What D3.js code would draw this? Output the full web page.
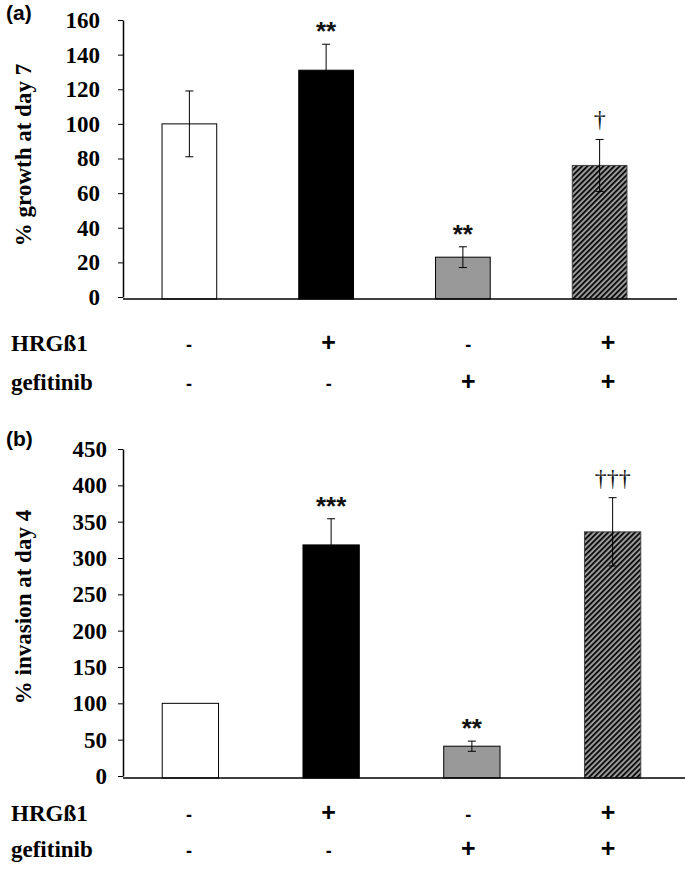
<!DOCTYPE html>
<html lang="en">
  <head>
    <meta charset="UTF-8" />
    <title>Growth and invasion</title>
    <style>
      body { margin: 0; background: #fff; }
      .serif { font-family: "Liberation Serif", "Times New Roman", Times, "DejaVu Serif", serif; font-weight: bold; }
      .sans { font-family: "Liberation Sans", Arial, Helvetica, sans-serif; font-weight: bold; }
      .dagger { font-family: "Liberation Serif", "Times New Roman", "DejaVu Serif", serif; font-weight: normal; }
    </style>
  </head>
  <body>
    <script src="https://d3js.org/d3.v7.min.js"></script>
    <script>
      const width = 685;
      const height = 874;

      const categories = ["control", "HRG", "gefitinib", "HRG+gefitinib"];
      const fills = ["#fff", "#000", "#999", "url(#hatch)"];

      const growthValues = [100, 131, 23, 76];
      const growthErrors = [19, 15, 6, 15];
      const growthMarks = ["", "**", "**", "†"];
      const growthTicks = [0, 20, 40, 60, 80, 100, 120, 140, 160];

      const invasionValues = [100, 318, 41, 336];
      const invasionErrors = [0, 36, 7, 47];
      const invasionMarks = ["", "***", "**", "†††"];
      const invasionTicks = [0, 50, 100, 150, 200, 250, 300, 350, 400, 450];

      const hrgRow = ["-", "+", "-", "+"];
      const gefitinibRow = ["-", "-", "+", "+"];

      const svg = d3
        .select("body")
        .append("svg")
        .attr("width", width)
        .attr("height", height);

      const pattern = svg
        .append("defs")
        .append("pattern")
        .attr("id", "hatch")
        .attr("patternUnits", "userSpaceOnUse")
        .attr("width", 3.8)
        .attr("height", 3.8)
        .attr("patternTransform", "rotate(45)");
      pattern.append("rect").attr("width", 3.8).attr("height", 3.8).attr("fill", "#9a9a9a");
      pattern.append("rect").attr("width", 1.7).attr("height", 3.8).attr("fill", "#000");

      const signX = d3.scalePoint().domain(categories).range([189, 608]);

      function panel(cfg) {
        const g = svg.append("g");
        const x = d3
          .scaleBand()
          .domain(categories)
          .range(cfg.xRange)
          .paddingInner(0.6)
          .paddingOuter(0.3);
        const y = d3.scaleLinear().domain(cfg.domain).range(cfg.yRange);
        const cx = (d) => x(d) + x.bandwidth() / 2;

        // bars
        g.selectAll("rect.bar")
          .data(categories)
          .join("rect")
          .attr("class", "bar")
          .attr("x", (d) => x(d))
          .attr("width", x.bandwidth())
          .attr("y", (d, i) => y(cfg.values[i]))
          .attr("height", (d, i) => y(0) + 2 - y(cfg.values[i]))
          .attr("fill", (d, i) => fills[i])
          .attr("stroke", (d, i) => (i === 3 ? "#444" : "#000"))
          .attr("stroke-width", 1);

        // error bars (drawn both ways)
        const errData = categories
          .map((d, i) => ({ d, v: cfg.values[i], e: cfg.errors[i] }))
          .filter((o) => o.e > 0);
        const err = g
          .selectAll("g.err")
          .data(errData)
          .join("g")
          .attr("class", "err")
          .attr("stroke", "#000")
          .attr("stroke-width", 1);
        err.append("line")
          .attr("x1", (o) => cx(o.d))
          .attr("x2", (o) => cx(o.d))
          .attr("y1", (o) => y(o.v + o.e))
          .attr("y2", (o) => y(o.v - o.e));
        [1, -1].forEach((s) => {
          err.append("line")
            .attr("x1", (o) => cx(o.d) - 4)
            .attr("x2", (o) => cx(o.d) + 4)
            .attr("y1", (o) => y(o.v + s * o.e))
            .attr("y2", (o) => y(o.v + s * o.e));
        });

        // significance marks
        g.selectAll("text.mark")
          .data(categories)
          .join("text")
          .attr("class", (d, i) => (cfg.marks[i].includes("*") ? "mark sans" : "mark dagger"))
          .attr("x", cx)
          .attr("y", (d, i) =>
            y(cfg.values[i] + cfg.errors[i]) - (cfg.marks[i].includes("*") ? 4 : 12)
          )
          .attr("text-anchor", "middle")
          .attr("fill", "#111")
          .attr("font-size", (d, i) => (cfg.marks[i].includes("*") ? 26 : 24))
          .text((d, i) => cfg.marks[i]);

        // y axis
        const axis = g
          .append("g")
          .attr("transform", `translate(${cfg.axisX},0)`)
          .call(
            d3.axisLeft(y)
              .tickValues(cfg.ticks)
              .tickSize(5)
              .tickSizeOuter(0)
              .tickPadding(cfg.tickPad)
          );
        axis.attr("font-family", null).attr("font-size", null);
        axis.select(".domain").attr("stroke-width", 1.5);
        axis.selectAll("text")
          .attr("class", "serif")
          .attr("font-size", 23)
          .attr("fill", "#000");

        // baseline
        g.append("line")
          .attr("x1", cfg.axisX)
          .attr("x2", cfg.baseEnd)
          .attr("y1", y(0) + 2)
          .attr("y2", y(0) + 2)
          .attr("stroke", "#000")
          .attr("stroke-width", 1.5);

        // y label
        g.append("text")
          .attr("class", "serif")
          .attr("transform", `translate(31,${cfg.labelY}) rotate(-90)`)
          .attr("text-anchor", "middle")
          .attr("font-size", 23)
          .text(cfg.label);

        // panel letter
        g.append("text")
          .attr("class", "sans")
          .attr("x", 6)
          .attr("y", cfg.letterY)
          .attr("font-size", 21)
          .text(cfg.letter);

        // treatment rows
        [
          ["HRGß1", hrgRow, cfg.rowY[0]],
          ["gefitinib", gefitinibRow, cfg.rowY[1]],
        ].forEach(([name, row, ry]) => {
          g.append("text")
            .attr("class", "serif")
            .attr("x", 11)
            .attr("y", ry)
            .attr("font-size", 23)
            .text(name);
          g.selectAll(null)
            .data(categories)
            .join("text")
            .attr("class", "sans")
            .attr("x", (d) => signX(d))
            .attr("y", ry)
            .attr("text-anchor", "middle")
            .attr("font-size", (d, i) => (row[i] === "+" ? 25 : 18))
            .text((d, i) => row[i]);
        });
      }

      panel({
        letter: "(a)",
        letterY: 20,
        label: "% growth at day 7",
        labelY: 155,
        values: growthValues,
        errors: growthErrors,
        marks: growthMarks,
        ticks: growthTicks,
        domain: [0, 160],
        yRange: [297, 20],
        xRange: [121, 668],
        axisX: 123,
        baseEnd: 677,
        tickPad: 18,
        rowY: [351, 390],
      });

      panel({
        letter: "(b)",
        letterY: 446,
        label: "% invasion at day 4",
        labelY: 607,
        values: invasionValues,
        errors: invasionErrors,
        marks: invasionMarks,
        ticks: invasionTicks,
        domain: [0, 450],
        yRange: [776, 449],
        xRange: [120, 683],
        axisX: 123,
        baseEnd: 685,
        tickPad: 11,
        rowY: [821, 857],
      });
    </script>
  </body>
</html>
